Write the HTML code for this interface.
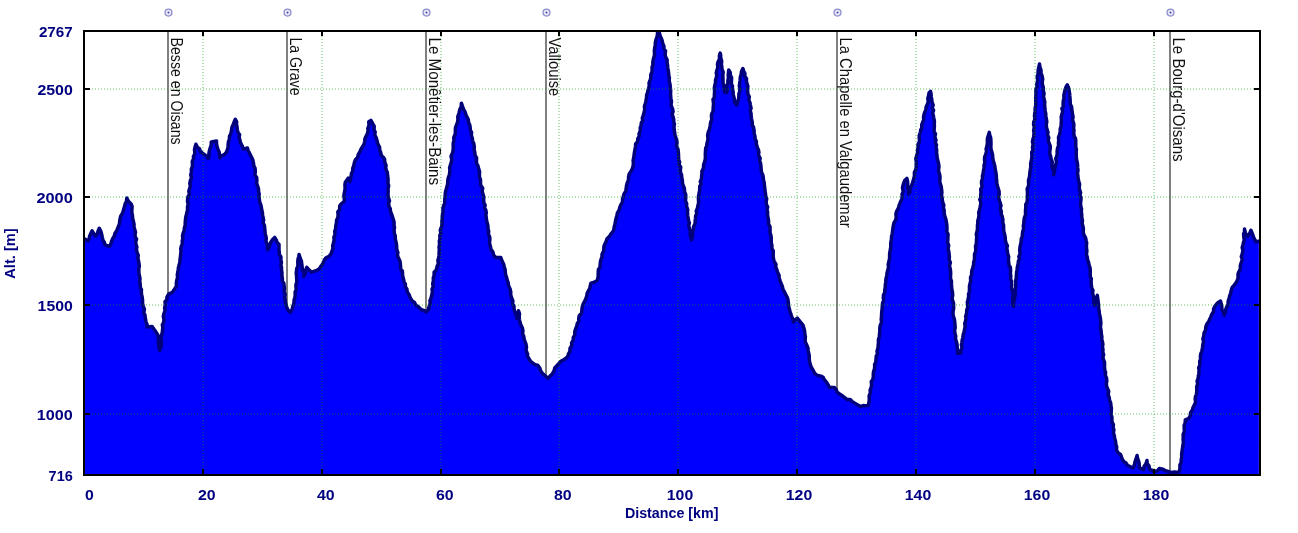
<!DOCTYPE html>
<html><head><meta charset="utf-8"><title>Profile</title>
<style>html,body{margin:0;padding:0;background:#fff}svg{display:block}</style></head>
<body>
<svg width="1298" height="533" viewBox="0 0 1298 533">
<rect width="1298" height="533" fill="#fff"/>
<g shape-rendering="crispEdges" stroke="#808080" stroke-width="2">
<line x1="168" y1="32" x2="168" y2="474"/>
<line x1="287" y1="32" x2="287" y2="474"/>
<line x1="426" y1="32" x2="426" y2="474"/>
<line x1="546" y1="32" x2="546" y2="474"/>
<line x1="837" y1="32" x2="837" y2="474"/>
<line x1="1170" y1="32" x2="1170" y2="474"/>
</g>
<path d="M84 239 L84.9 239 L88.1 240.9 L89.2 238.5 L89.6 236.2 L90.7 233.6 L92.1 230.9 L94.1 234.2 L95.7 236 L97.2 234.3 L98.1 231 L99.3 228.3 L101 231.6 L101.8 234.9 L102.5 238.1 L103.1 240.3 L104.4 242.5 L105 244.9 L109.2 246.4 L110.9 243.9 L111.5 241.5 L112.8 238.5 L114.2 236.3 L115 233.2 L116.7 230.6 L118.2 226.9 L119.5 223.6 L119.6 221.7 L120.1 218.5 L120.8 215.9 L122.7 212.9 L123.5 209.9 L124.4 207.1 L125.1 203.9 L126.4 201.6 L126.8 198.1 L128.4 201.3 L131.3 204.3 L132.1 206.6 L131.9 210 L131.8 212.5 L132.4 214.9 L132.7 218.7 L133.3 220.8 L134.1 224.3 L133.9 226.5 L134.8 229.7 L135.5 232.3 L135 234.3 L135.4 237.5 L136.6 239.1 L135.7 241.8 L136.1 244.7 L136.9 247 L136.4 249.8 L137.2 252.6 L138.3 255.4 L137.9 257.9 L138.3 260 L139 263.4 L139.3 266.1 L138.9 268.2 L138.8 271.3 L139 273.2 L139.5 276 L140 278.5 L139.8 281.4 L140.2 284.3 L140.4 287.8 L141.5 289.4 L141.3 292.4 L141.7 294.8 L142.4 298.3 L142.6 300.9 L142.5 303.2 L143.3 306.3 L144.4 309.1 L143.7 313.1 L144.9 314.8 L145.3 317.9 L146 321.9 L147.1 324.5 L147.1 327.1 L152.1 326.4 L154 329.3 L155.4 331.1 L157.5 334.5 L158.2 337.3 L158.6 339.9 L158.3 342.3 L158.9 344.3 L158.9 347.3 L159.8 350.4 L161 347.4 L161.3 345.2 L161.6 341.5 L160.9 338.4 L161.2 335.5 L162.1 333.6 L162.5 330.2 L162.8 327.8 L162.3 324.8 L163.8 322.1 L163.9 318.9 L163.3 316.5 L163.9 313.7 L165.1 310.3 L164.6 308.3 L165.3 304.4 L165 301.8 L166.9 299.8 L166.9 297.1 L168.7 294.1 L172.3 292.4 L175.1 288.1 L176.5 285.9 L176.3 283.7 L176.6 280.9 L177.6 277.3 L177.3 274.7 L177.7 272.5 L178.2 269.5 L178.4 267.6 L179.3 264.3 L179.9 262.3 L180 259.7 L180.4 256.6 L180.8 253.3 L181 250.9 L180.7 249.2 L181.3 246.1 L182.4 243.6 L182.2 241 L182.8 238.8 L182.5 235.9 L183.2 233 L184.2 230.6 L184.3 228.3 L185.2 225.3 L185.2 222.7 L185.4 220.4 L185.7 217.5 L186.2 215.5 L186.9 212.8 L187.6 209.3 L187.4 207.3 L188.2 203.8 L187.5 201.6 L187.7 198.6 L188.1 196.6 L189.4 194.2 L188.8 191.3 L189.8 187.8 L190.4 186.3 L189.8 183.6 L190.4 180.3 L191.5 178.1 L190.7 174.9 L191.5 172.1 L191.3 169.4 L192.4 166.3 L192.4 164.3 L192.3 161.2 L193.6 158.7 L193.4 156.5 L194.9 153.7 L194.5 149.9 L194.9 147.8 L195.9 144.3 L197.5 147.4 L199.5 148.7 L200.3 151.5 L202.6 153.2 L203.9 154.1 L206.8 156.3 L208.2 158.5 L209.2 156 L208.9 153.4 L209.4 150.7 L210.4 147.3 L211.1 145.5 L211.3 141.9 L216.5 141 L216.5 143.6 L217 146.4 L218 149.4 L219.2 152.2 L219.4 154.9 L219.9 157.9 L221.9 155.5 L224.7 154.3 L226.4 152.2 L227.7 149 L228 146.7 L228.1 144.6 L228.5 141.5 L229.4 139.5 L229.5 136.3 L230.9 133.5 L231.5 130.2 L232 127.1 L233 125.1 L234.3 121.5 L235.3 119.3 L236.7 121.9 L236.4 123.9 L237 126.7 L237.3 129.3 L238 132.6 L239.6 134.6 L239.1 137.7 L239.8 139.4 L240.3 142.1 L242.1 145.7 L243.5 149.2 L247.4 148 L248.1 150.5 L249.1 152.3 L250.4 155 L251.8 157.8 L252.9 160.3 L253.6 163.6 L253.7 165.7 L255.1 168.3 L255.3 171.9 L254.9 175 L256.7 177.6 L256.9 180.5 L256.6 183 L257.6 186.1 L258.5 188.8 L258.6 191.6 L259.2 194 L259 195.7 L259.3 198.8 L259.7 202.2 L260.7 204.5 L261.4 207.5 L261.7 209.7 L262.5 213 L262.5 215.3 L263.1 217.3 L263.6 220.1 L263.1 222.8 L264.4 225.3 L264.8 229 L264.9 230.8 L265.3 233.8 L265.9 236.3 L266.3 238.4 L266 241.5 L267.3 244.3 L267.5 246.7 L267.5 250 L269 247.8 L270 244.6 L270.8 242.2 L272.6 239.4 L274.7 237.4 L276.5 240.4 L276.7 241.9 L279 244.5 L279 246.5 L279 250 L279.3 252.1 L279.5 254.7 L280.9 256.7 L281 259.9 L281.4 262.8 L280.8 265.6 L281.5 267 L281.5 270.3 L282 272.7 L281.9 275.4 L282.4 278.8 L282.3 281.3 L283.8 283.1 L284.2 286.6 L284.5 288.7 L284 291.5 L285.2 294.5 L284.7 296.9 L285.1 299 L285.4 302.7 L286.3 305.4 L286.8 307.1 L287.8 309.8 L290.3 312.3 L292.1 309.4 L292.9 306.3 L293.9 303.4 L294.1 300 L294.7 297.9 L295.2 295.5 L295.1 292 L296.2 289.7 L296 287.1 L295.9 284.9 L296.9 281.5 L296.6 278.9 L296.6 276.3 L296.2 273.3 L296.4 271.6 L296.9 268.1 L297.9 266.3 L297.8 262.4 L297.9 259.6 L298.6 256.8 L299.1 254.5 L300.3 258.4 L301.4 261 L301.8 264.3 L302.2 267.1 L302.3 270 L304.1 272.8 L303.9 276.4 L305.4 272.9 L305.6 269.9 L306.8 267.3 L309.5 270.3 L311.2 272 L312.9 271.6 L316.9 270.3 L319.1 269 L320.5 266.9 L322.8 263.8 L324.3 260.1 L326 257.8 L329 256.4 L331 253.9 L331.9 251.3 L333 248.2 L332.7 245.9 L333.3 243.5 L334.1 240.1 L333.9 237 L335 234.8 L334.7 231.1 L335.6 229 L335.8 225.7 L336.5 222.6 L336.5 220.4 L337.8 217.8 L338.1 214.8 L337.8 211.8 L339.6 209.6 L339.7 206 L341 204.1 L343.9 201.8 L344.4 199.8 L343.9 195.7 L344.2 193.5 L344.8 190.4 L345.1 188.3 L344.9 184.8 L345.3 182.3 L348.2 178.2 L349.8 181.6 L350.3 179.4 L351.2 175.7 L351.4 173.4 L352.6 171.5 L352.8 168.2 L353.6 166.2 L354.5 162.1 L355.4 159.8 L357.6 157.6 L358.2 154.6 L360.1 151.5 L360.6 149.9 L362.8 146.1 L364.1 144.1 L364.6 141.5 L365 138.5 L365.9 136.5 L367.3 133.9 L368.1 130.7 L367.8 128.6 L369 125 L368.7 122 L370.9 120.3 L372.8 123.9 L374.2 126.2 L374.1 130.1 L375.2 131.9 L374.7 134.7 L376.3 138 L377.3 141.8 L377.8 143.9 L379.6 147.4 L379.8 150.4 L380.7 152.3 L381.3 155.4 L383.6 157.6 L384.6 159.2 L384.8 162.3 L386.1 165.5 L385.7 167.1 L386.2 170 L387.3 172.2 L387.6 175.6 L388 178.2 L388.1 180.3 L387.9 183.1 L388.7 185.5 L388 189.3 L388.2 191.2 L388 194.7 L388.6 198.1 L389.5 201 L388.7 202.6 L388.9 206 L390.3 208.7 L390.5 211.5 L391.8 214.6 L392.8 217.7 L393.4 219.7 L394.1 222.3 L394 225.1 L394.5 227.4 L394.1 230.1 L394.3 233.6 L395.2 235.5 L395.3 239 L395.7 240.6 L396.4 243.8 L396.6 245.9 L396.8 249.5 L397.9 252.5 L397.4 254.5 L398.1 257.3 L399.8 260.7 L400.3 263.2 L400.6 266.3 L400.7 269.3 L402.4 270.9 L402.6 274.2 L402.8 276.5 L403.4 278.8 L404.2 282 L405.4 284.2 L405.3 286.7 L406.9 289 L407.2 291.8 L409.4 295.1 L410 297.4 L412.2 301 L414.5 302.4 L415.9 305.3 L418.3 306.8 L420.8 309.3 L423.5 310.4 L426.3 311.9 L428.4 309.7 L429.3 305.8 L430.3 302.8 L429.9 301 L431.1 298 L431.7 295.3 L432.4 291.8 L432 289.3 L433.2 286.9 L432.7 283.7 L433.4 280.7 L433.3 277.6 L434.1 275.7 L434.1 272.3 L436.3 270 L437.2 266 L438.3 264.2 L437.9 260.1 L438.7 257.9 L439 255.4 L439.1 252 L439.3 249.3 L439 247.4 L439.6 244 L439.3 241.2 L440 238.4 L439.8 235.4 L440.9 233.5 L440.3 230.2 L441.6 226.6 L442 223.9 L441.9 221.7 L442.3 218.5 L442.3 216.1 L442.7 213.6 L443.1 210.7 L442.9 208.3 L443.9 205.1 L444.7 203.3 L444.7 199.8 L445.1 197.1 L445.2 195 L445.4 192.1 L446.4 188.8 L447.1 186 L447.6 184.2 L447.8 180.4 L448.2 178.1 L449.3 175 L449.6 173.4 L449.9 170.3 L449.6 167.8 L450.5 164.6 L451.5 161.2 L451.7 159.7 L451 156.2 L452.4 153.3 L453 150.9 L453.2 148.1 L453.2 146.5 L453.2 143 L454 140.4 L453.7 137.6 L454.3 136.1 L455.4 133.4 L455.3 130.4 L455.5 127.4 L456.8 124.2 L457.7 121.6 L457.9 119.2 L457.8 116.5 L459.1 112.7 L459.7 109.8 L461.2 106.6 L461.4 103.2 L462.4 106 L463.7 109.7 L465.2 112.2 L466.2 115.7 L467.4 117.7 L468.4 119.7 L468.4 122.1 L469.8 125.1 L470.3 128.4 L470.3 130 L471.6 132.3 L471.3 135.4 L472.3 138.1 L472.7 141.1 L473.7 143.3 L474.3 146.5 L474.1 149.9 L474.7 151.5 L475 155 L476.6 157.9 L476.5 160.1 L476.5 163.3 L477.9 165.7 L478.6 168.6 L479.6 171.8 L479.4 174.6 L479.5 177.2 L480.5 179.6 L480.5 183.2 L480.9 185.7 L482.7 188 L482.2 191.5 L483.1 194.4 L483.8 196.8 L483.7 199.3 L483.8 202.7 L485.2 205.1 L484.5 207.9 L485.8 210 L486.3 212.6 L485.9 214.8 L486.2 217.4 L486.7 221.1 L487.5 223.9 L487.9 225.8 L488 228.7 L488.7 231.5 L488.4 234.3 L489.7 236.8 L489.9 239.5 L489.5 242.8 L490.5 246.8 L490.8 249.1 L492.8 251.7 L493.6 255.2 L495.8 257.4 L500.8 257.6 L502.2 261.3 L503.8 264.6 L504.3 267.3 L505.1 269.4 L505.3 272.5 L505.8 275.6 L506.5 277.1 L507.4 280.7 L508.2 282.8 L508.5 285.6 L510.2 289.3 L510.8 292.2 L510.7 294.9 L511.7 298 L512.9 300.9 L512.5 303.7 L514 306.3 L513.9 308.6 L514.7 311.3 L516.4 315.4 L516.8 318.2 L517.9 314.2 L518.5 310.7 L519.5 313.6 L519.2 316.9 L519.5 319.8 L520.2 323 L520.9 325.1 L522.4 328.1 L523 331 L522.5 333.4 L523.8 336.4 L524.2 339.4 L525 341.5 L526 344.2 L526.5 347.2 L526 350.1 L527.6 354.1 L527.5 356.3 L529.3 359.2 L530.6 361.3 L532.9 363.1 L535.1 364.6 L537.6 365.1 L539.8 368 L540.7 370.9 L542.6 373.6 L545.7 376.3 L548 378.3 L549.8 376.3 L552.2 374.1 L554.1 370.7 L554.8 368 L557.2 365.3 L558.7 363.8 L560.7 361.3 L563.3 360 L566 358.2 L567.9 356.2 L568.4 354.1 L569.9 351.3 L570 348.2 L571.7 345.7 L571.6 342.8 L573.3 340 L573.3 337.2 L574.8 335.2 L574.8 331.5 L575.6 329 L576.8 326 L577.3 323.3 L578.9 321.3 L578.7 318.5 L579.3 315.5 L581.4 313.6 L581.9 310.5 L582 308.3 L582.7 305.1 L584 302.4 L584.9 300.7 L586.1 298 L586.9 295.5 L587.1 293.3 L588.3 291 L589.9 288.1 L590.2 286.1 L590.9 283.1 L594.3 282.3 L597.2 280.4 L598 277.9 L598.2 275 L598.2 272.6 L598.4 269.6 L599.9 267.4 L600.2 264.1 L600.4 261.8 L601.1 259.1 L602 257.2 L602 254.2 L603.5 251.3 L603.8 249.5 L603.9 246.3 L604.8 244.1 L606.3 241.1 L607 238.8 L609.3 236.6 L610.8 234.1 L612.9 231.5 L613.9 229.4 L614.2 226.7 L615 224.2 L615.3 221.9 L616.2 218 L616.8 215.9 L617.4 213 L619 210.4 L619.9 206.9 L621 204.5 L622.6 201.7 L622.5 199.4 L623.5 195.9 L624 194 L625.8 191.2 L626.2 188.3 L626.4 186.1 L627.2 182.9 L628.4 180.3 L628.6 176.7 L629.2 173.9 L631 171.3 L632.4 168.5 L633.1 166 L633.4 162.9 L633.1 160.7 L633.8 157.2 L634.1 154.6 L634.5 152 L635.1 148.7 L635.5 146.2 L635.6 144 L637.8 141.4 L637.7 139 L639.3 135.7 L639 134 L640.4 130.4 L640.2 127.6 L640.9 125.9 L641.5 122.4 L642.8 120.7 L642.3 118.2 L643.4 115.2 L644 112.6 L644.7 109.6 L644.4 106.5 L645.3 103.5 L645.8 101.3 L646.5 97.8 L646.6 95 L647.6 92.3 L648.1 89.9 L648.7 87.8 L649.3 85.5 L649 83.1 L650.1 80.1 L650.8 78 L650.8 74.8 L652.1 71.7 L652.1 70 L652 67.3 L652.9 65 L652.8 62.3 L653.4 58.9 L654.4 55.4 L654.5 53.5 L654.3 51.1 L654.7 47.7 L655.3 45.2 L655.4 41.9 L656.2 39.1 L657.3 35.7 L657.5 32.9 L659.3 32.8 L660.3 36.3 L661.5 38.7 L662.2 40.9 L662.8 43.6 L664 46.4 L663.9 48.8 L665.6 51 L665.1 53.6 L665.4 56.2 L667.1 59.7 L667.1 62.8 L667.6 65.3 L667.8 68 L668.3 70.7 L668.6 72.8 L668.9 75.8 L669.4 78 L669.2 80.9 L670.1 84.7 L670.2 86.8 L670.7 90.2 L670.6 92.3 L670.6 95.4 L670.9 98.3 L671.5 101.6 L671.1 104 L671.3 105.9 L672.7 109.2 L673.1 111.6 L672.1 114.1 L673.2 117.4 L673.7 119.4 L673.7 121.4 L674.4 124.1 L674 126.4 L674.2 130 L674.7 132.9 L675.1 135.4 L675.5 136.7 L676.6 139.8 L677.1 142.3 L676.5 145.9 L677.8 148.8 L678.2 150.5 L678.5 154.2 L678.6 157.3 L678.7 160.1 L679.6 161.9 L679.1 165 L680.7 166.8 L680.4 170.2 L680.6 173 L681.5 174.4 L681.8 177.7 L682.4 180.3 L682.5 183.4 L683.4 186 L684.4 188.5 L684.6 191.9 L685.7 194.5 L685.8 197 L685.5 200.9 L686.7 203.6 L686.5 206.2 L687.7 209.5 L687.5 211.9 L687.7 215.4 L688 217.9 L688.7 221 L689.4 222.9 L688.7 225.7 L689.7 229 L690.6 232.2 L690 234.9 L691.4 237.8 L691.5 239.9 L692.4 237.8 L692.7 235.3 L692.7 231.4 L693.5 229.7 L693.5 226.9 L695.1 223.5 L695.1 221.4 L695.5 218.2 L695.6 216.2 L696.8 213.2 L696.2 211.1 L697.6 207.7 L697.8 206 L698.6 202.9 L698.5 200.4 L698.4 197.2 L698.7 195.2 L699.3 192.4 L699.7 189.6 L699.7 186.3 L701.2 184.1 L700.3 181.7 L701.6 178.4 L701.6 176.1 L702 172.8 L701.8 171.4 L703.5 167.9 L703.6 164.8 L704.4 162.3 L705.1 160 L705.4 157.5 L705.3 153.8 L705.5 150.9 L705.7 147.9 L706.7 146.3 L706.9 143.7 L707.9 139.7 L707.9 137.4 L707.6 135.4 L708.3 132 L709.4 129.5 L710.2 125.6 L710.7 122.1 L711.8 119.7 L711.4 115.9 L711.8 113.6 L713 111.5 L713.2 107.5 L713.4 105.6 L713.5 103.2 L713 99.2 L714.3 97.5 L714.4 93.8 L714.6 91.5 L714.3 88.4 L714.8 85.4 L715.5 82.8 L715.5 80.1 L716.4 77.2 L716.8 74.8 L716.2 73.2 L716.8 70.5 L717.8 67.5 L717.5 64.3 L717.9 62.2 L719.5 58.9 L719.4 55.7 L720.2 53.1 L720.7 55.3 L720.7 57.8 L721.7 61.1 L721.4 64.4 L721.8 66.6 L722 69.2 L723.2 72.1 L722.8 75.2 L723 78.6 L723 81.6 L723.2 84.3 L724.3 86.2 L724.3 89.2 L724.4 92.1 L726.5 92.6 L727.5 90 L726.5 86.3 L727.9 83.1 L727.9 80.6 L728.4 77.4 L728.2 75.1 L728.7 69.9 L730.3 72.7 L730.4 75.2 L731.6 77.6 L731.5 80.3 L731.4 84 L732.5 86.1 L732.3 89 L733.2 91.9 L733.1 94.1 L734 97.4 L734.6 99.8 L734.4 102 L736.8 105.2 L737.6 102 L738.4 99.7 L738.8 97.6 L738.9 93.8 L739.7 91.5 L740 88.4 L739.3 86.3 L739.8 82.5 L740.1 80.2 L740.3 77.2 L741.2 74.2 L741.5 71.5 L742.9 68.5 L743.6 71 L744.9 73.4 L744.8 76.4 L746.5 78.6 L746.4 81.3 L746.9 83.3 L747.9 86.2 L747.5 89 L747.8 92.4 L747.9 94.1 L749.3 96.9 L748.8 100.1 L750 102.7 L750.4 105 L751.1 108.4 L750.2 110.4 L751.1 113.8 L751.1 116.1 L751.6 119.1 L752.3 122.7 L752.2 125 L753.5 127.2 L754.2 131.1 L754 133.1 L754.9 136 L755.2 139.3 L756.4 141.1 L756.3 143.8 L757.3 147.4 L758.5 150 L758.9 152.3 L758.5 155 L760.2 158.5 L759.6 160.6 L760.6 163.4 L760.9 165.9 L761.2 169.3 L761.4 171.9 L762.9 175.3 L763.3 177.8 L763.6 180.8 L764.2 182.3 L764.4 185.3 L764.8 188.1 L765.1 191.6 L765.5 193.3 L765.7 196.2 L766.7 198.7 L766.1 201.8 L766.4 204.4 L767.7 207.1 L767 209.8 L767.7 212.2 L767.5 214.9 L768.1 218.1 L768.6 220.8 L768.5 223.9 L770 226.8 L770.1 229.7 L770 232.6 L770.8 235.1 L771.3 237.7 L771.2 240.1 L771.4 243.2 L772 245.9 L771.8 248.3 L773.3 250.8 L773.2 253.8 L773.2 257.2 L773.7 259.4 L774.2 261.3 L776 264.4 L775.7 267 L777 270.2 L777.4 272.1 L779.1 275.4 L779.1 277.8 L780.2 281.1 L781.4 284.1 L782.4 286.5 L783 289.5 L784.5 291.9 L785.9 294.9 L787.1 297 L787.9 299.4 L788.4 303.1 L788.6 306.4 L789.3 308.5 L790 311.7 L790.9 313.9 L791.6 316.6 L792.9 319.1 L793.4 322 L795.1 319.8 L797.3 318.2 L799.1 320.3 L800.7 322.5 L803 325.2 L803.7 327.5 L804.6 330.9 L804.9 334.6 L805.4 336.7 L805.1 340.4 L805.3 342 L806.8 345.1 L808 348.1 L808.2 350.5 L808.6 353 L809.3 355.6 L809.2 358.7 L809.6 362 L810.3 364.2 L810.9 366.5 L812.6 369.3 L814.1 372.3 L815.5 374.3 L817.8 375.5 L821.3 376.1 L823.3 377.5 L824.3 379.5 L827 382.8 L827.8 384.3 L829.6 387.4 L834.5 387.6 L836.3 389.7 L837.1 392.2 L839.6 394 L841.5 395.2 L844.4 397.4 L846.8 399.4 L849.9 399.4 L852.3 401.6 L854.8 403.3 L857 404.5 L860.6 406.5 L863.3 405.6 L865.7 405.8 L868.2 405.5 L868.8 403.1 L869.3 399.2 L869.1 395.9 L870.4 392.8 L870.1 390.1 L870.9 388.1 L871.6 385.4 L871.3 381.6 L872.8 379.4 L873.3 376.8 L873.3 374.1 L873.4 372.3 L874.5 368.9 L874.7 366.4 L874.6 364.5 L875.8 362 L876 359 L876.3 355.9 L877.5 353.9 L877 351.2 L878.1 347.6 L878.1 345.8 L878.4 343 L878.4 339.5 L879.4 336.5 L879.4 334.4 L879.8 331.7 L879.8 327.9 L880.3 325.1 L881.5 322.4 L881.2 319.3 L881.5 316.8 L881.6 313.5 L881.8 311.5 L882.2 308.3 L882.3 305.6 L882.7 302.6 L883.7 300.4 L883.3 298.2 L883.5 294.9 L884.9 292 L884.7 290.3 L885.3 287 L885.3 284.7 L885.7 282.2 L885.9 279.4 L886.7 275.6 L887.1 272.6 L887.8 270 L888.5 267.7 L888.2 264.4 L888.9 261.5 L889.5 258.8 L889.6 256.3 L889.6 253.9 L890.1 250.9 L890.7 247.6 L890.8 244.5 L890.8 242.7 L891.4 239.7 L891.5 236.7 L892.2 233.8 L892.6 230.7 L893 227.8 L893.3 225.7 L894.1 222.5 L895.6 220.3 L896.2 217.6 L895.9 214.1 L896.5 211.6 L898.4 208.1 L899.1 205.4 L900.5 201.9 L901.7 199.1 L902.3 196.1 L902 194.3 L903.2 191.4 L902.5 187.8 L903 185.4 L903.7 183.1 L904.7 180.6 L906.9 178.4 L907.6 181.3 L907.7 183.5 L907.6 186.7 L907.8 188.4 L908.8 192.1 L908.5 194 L910 191.9 L909.8 188.9 L910.8 187.1 L912 184.5 L913.2 180.8 L913.7 178.5 L914.4 176.3 L914.4 172.4 L915.6 170.1 L916.2 167.6 L916.2 164.9 L916.3 161.5 L915.8 159 L916.6 155.9 L917.6 152.5 L917.5 149.8 L918.1 147.6 L918 144.3 L919.5 141.5 L919.3 138.2 L919.2 135.5 L920.3 132.6 L920.7 129.9 L921.8 127.9 L921.7 124.6 L922.7 122.3 L923.8 119.4 L923.5 117.5 L924 114.3 L924.8 112.2 L925.9 109.6 L926.1 107 L927.4 104.2 L928.2 101.9 L927.8 98.4 L928.6 95.5 L929 93 L930.5 91.3 L931 93.4 L931.3 96.7 L931.7 99 L932 101.9 L933.2 105.2 L932.2 107.9 L933.6 110.3 L932.6 112.9 L933.3 115.2 L933.7 117.6 L934.4 121.1 L934.3 124.2 L934.4 126.1 L934.2 128.4 L934.1 132 L935.5 133.9 L934.8 137 L936 140.1 L935.3 142.5 L936.5 145.1 L936 146.9 L936.7 149.9 L936.6 152.8 L937 155.8 L937.1 157.4 L937.9 160.9 L938.6 163.7 L939 166.8 L938.7 168.8 L938.6 171.2 L939.5 173.9 L940 176.3 L939.9 180.1 L939.7 181.4 L940.5 184.2 L941.2 186.6 L941.7 190.4 L941.9 192.4 L941.5 195.3 L942.1 197.6 L942.3 200.3 L943.1 203.3 L943.8 205 L943.4 208 L944.2 210.4 L944.1 212.6 L944.7 215.8 L945.7 218.7 L946.3 221.7 L946.7 223.9 L946.9 225.8 L947 229.2 L946.8 231.8 L948.1 234.3 L947.9 236.9 L947.8 240.4 L947.6 242.3 L948.7 245.5 L948.1 248.7 L948.8 251.5 L949.1 254.3 L949.4 257 L949.1 259.4 L950.4 262.6 L949.5 265.8 L949.9 267.4 L950.5 270.4 L950.7 273.5 L950.5 276.3 L950.6 278.9 L951.5 281.1 L951.4 283.8 L951.7 287.6 L952 290.1 L952.5 292 L952.7 295.5 L952 298.4 L952.6 300.2 L953.6 303.4 L953.5 305.5 L953.7 308.1 L953.1 311.2 L953 314.2 L953.5 316.4 L954.4 319.3 L954.8 322.2 L955 324.8 L955.2 327.9 L954.6 330.3 L955 333.4 L955.8 336.3 L955.4 338.6 L956.6 342.3 L957 343.9 L957.2 346.9 L957.5 350.7 L957.5 353.5 L960.9 353 L960.7 350.5 L962 348 L961.4 344.6 L961.8 343.1 L962.2 340.1 L962.8 337.6 L963.3 334.2 L964.1 332.1 L964.4 329.9 L965.2 326.1 L964.7 323.6 L965.3 321.9 L966.1 318 L965.6 316.5 L966.6 313.2 L966.7 310.2 L967.6 307.8 L967.8 305.4 L967.3 302.3 L967.8 300.4 L968.7 296.5 L968.5 294.2 L969.3 291.7 L969.5 288.7 L969.4 286.3 L970.2 282.7 L970.7 281.4 L970.5 277.4 L971.6 275 L971.6 272.6 L972 270.1 L972.7 268 L973.8 264.1 L973.6 262.5 L974.4 259.9 L974.5 257.1 L974.5 254 L975.5 252.2 L975.8 249.2 L975.5 246.5 L976.4 243.1 L976.5 239.8 L976.7 236.9 L976.3 233.8 L977.1 231.3 L977.5 228.2 L977.4 225.5 L977.9 222.7 L977.7 221.2 L978.6 218 L979 215.2 L978.7 212.3 L979.4 210.2 L980 207.7 L980.6 204.8 L980.8 202.5 L979.8 199.4 L980.8 197.9 L980.7 194.9 L981 192.5 L980.7 189.3 L982.1 186.4 L981.5 183.4 L981.6 181.1 L982.6 178.4 L982.4 176 L983 173.9 L983.5 170.3 L984 168.6 L984.1 164.6 L984.8 162.9 L984.5 159.1 L984.7 156.9 L985.8 154.2 L986.5 151 L986.1 149 L987 145.7 L987.4 142.9 L987.3 140.3 L987.5 138 L988.4 135.2 L989.3 132.4 L989.6 134.5 L990.7 137.9 L990.9 140.1 L991 143.6 L990.9 145.7 L990.9 148.7 L991.8 151.8 L992.6 154.9 L992.8 158 L993.4 160.9 L994 163.3 L994.8 166.1 L995.3 169.7 L995.8 172.1 L996.4 175.7 L996.3 177.5 L996.8 181.2 L996.7 182.8 L997.6 186.5 L998.4 188.9 L999.1 191.5 L999.2 194.1 L998.5 197 L999.3 200.3 L1000.1 202.6 L1001 205.6 L1000.2 208.1 L1001.4 211.9 L1001 213.5 L1002.2 216.5 L1002.9 219.6 L1002.7 222.3 L1003.6 225.3 L1003.6 229 L1003.9 231.7 L1004.7 234.5 L1005.3 237.7 L1005.3 240.1 L1006.2 243.3 L1007.4 245.7 L1006.8 248 L1007.4 251.1 L1007.6 253.4 L1008.7 256.8 L1008.4 260.1 L1008.7 262.2 L1009 265.4 L1010.4 267.3 L1010.6 270.9 L1010.4 273.1 L1010.8 276.5 L1010.6 279 L1011.5 281.4 L1011.7 284.8 L1011.5 287.5 L1012 290.1 L1012.9 292.1 L1013.2 296 L1012.6 297.4 L1012.6 301.4 L1012.8 304.1 L1013.5 306.5 L1013.4 303.2 L1014.5 300.5 L1014.2 299.1 L1015 296.5 L1015.6 292.7 L1014.8 291.2 L1015.7 287.5 L1015.7 285.2 L1015.9 282.4 L1015.5 281.1 L1016.2 278.3 L1016.4 275.2 L1016.6 272.4 L1017 270 L1017.3 267.3 L1018.2 263.7 L1018.3 261.5 L1019.5 258.6 L1018.8 256.7 L1020.1 253.6 L1019.7 250.1 L1020 247.2 L1020.4 245.1 L1021 242.4 L1021.3 238.8 L1022.2 236.9 L1022.4 233.9 L1022.8 231.3 L1023.6 228.7 L1023.3 225.6 L1023.7 223.9 L1024 220.5 L1024.4 217.6 L1025.6 214.8 L1025.5 213.5 L1025.5 210.4 L1025.8 207.2 L1025.8 204.3 L1027 202.5 L1027.4 198.7 L1027.3 196.4 L1027.5 194 L1027.4 191.8 L1027.2 188.8 L1028.6 185.7 L1028.6 183.6 L1028.5 180.3 L1029.4 177.3 L1029.7 174.6 L1029.9 172.2 L1030.4 169.1 L1030.8 166.7 L1030.6 164.1 L1031 161.8 L1031.7 158.7 L1031.9 155.6 L1031.7 152.4 L1032.9 150.1 L1032.5 147.3 L1033.1 144 L1032.4 142 L1033 139 L1033.8 136.5 L1034 132.5 L1033.6 130.5 L1034.3 127 L1033.6 124.5 L1033.7 121.9 L1034.9 119.4 L1034.5 116 L1034.6 114.6 L1035.2 111.1 L1035.1 108.8 L1035.7 105.2 L1035.8 102.8 L1035.7 100 L1035.7 97.4 L1036 94.3 L1035.9 92.5 L1035.9 89.3 L1037.1 86.8 L1036.7 84.2 L1037.6 81.4 L1037.6 79.8 L1037.2 76.6 L1038 74.2 L1038.2 70.1 L1038.8 67.2 L1039.5 64 L1039.9 67.3 L1041 69.9 L1041 73.2 L1042.1 75.9 L1042.7 79.3 L1042.2 82.1 L1042.4 84.1 L1043.3 87.4 L1043.3 90.5 L1044.1 93.7 L1043.5 96.3 L1044 99 L1044.8 101.8 L1044.6 105.4 L1044.9 107.7 L1045.2 111 L1045.8 113.8 L1045.7 116 L1046.4 119 L1046.8 122 L1046.3 123.9 L1046.5 127.4 L1046.9 129.1 L1048 132.3 L1047.5 135.2 L1048.8 137.6 L1048.2 140.5 L1049 143 L1050.2 146 L1050.3 147.7 L1049.9 150.8 L1049.8 154.1 L1050.6 155.9 L1051 158.5 L1052.2 161.6 L1052.1 164.2 L1051.9 166.7 L1053.5 170.2 L1053.9 172.1 L1053.6 174.9 L1054.3 172.3 L1054.6 169.7 L1055.2 166.8 L1055.9 163.9 L1056.5 161.6 L1055.7 158.6 L1056.8 156 L1057.2 153.2 L1057.1 151.2 L1057.5 148.4 L1058.6 145.5 L1058.4 143.3 L1058.7 140.6 L1058.5 137.3 L1059.7 134 L1060.1 131.7 L1060.3 128.6 L1061.1 126.2 L1061.2 123.1 L1061.4 120.4 L1061.2 116.8 L1062 114.1 L1062.7 111.2 L1061.9 108.4 L1063.2 106.9 L1063.1 103.8 L1063.2 101.5 L1064 98 L1063.8 95.7 L1064.3 93.1 L1065.1 89.5 L1066 87 L1067.3 84.9 L1068.5 87.6 L1069.1 90.2 L1069.7 94.1 L1069.8 95.9 L1070.1 99.1 L1070.2 101.6 L1070.3 104.2 L1071.6 106.8 L1071.8 109 L1072.1 111.9 L1072.8 115.5 L1073.1 117.4 L1072.5 119.7 L1073.4 122.5 L1073.9 124.6 L1073.6 128.2 L1074 130.3 L1073.7 132.6 L1074.2 136.4 L1075.4 138.3 L1075.8 140.8 L1075.7 144.9 L1075.8 147.3 L1076.4 149.3 L1076.2 152.7 L1076.3 156 L1076.5 159 L1076.9 160.9 L1077.5 163.8 L1077.7 167.7 L1078 170.2 L1077.5 173.1 L1077.9 176.1 L1078.2 178.9 L1078.8 181.5 L1079.6 184 L1079.2 188 L1079.8 190.4 L1080.6 192.9 L1079.9 195 L1081.1 197.7 L1080.8 201 L1080.5 203.5 L1080.8 206.3 L1081.5 208.8 L1081.3 211.5 L1081.7 214 L1081.8 217.7 L1082.5 220.6 L1082.1 223.5 L1083 226.2 L1083.4 228.9 L1083.2 231.9 L1083.7 234.2 L1085.6 237.9 L1086.1 240.4 L1086.7 242.9 L1086.4 245.8 L1086.6 249.3 L1086.9 251 L1086.4 254.5 L1087.2 256.8 L1087.7 260.2 L1088.6 262.5 L1089.2 265.5 L1090 267.7 L1090.3 271.1 L1090.2 273.3 L1090.3 276.9 L1091.3 278.7 L1091.1 281.4 L1091.2 284.2 L1091.8 287.9 L1093 290.4 L1092.6 292.6 L1093.2 295.6 L1093.9 298.8 L1093.6 302.1 L1094.8 305.5 L1094.8 302.3 L1096 298.2 L1097.3 295.4 L1097.6 297.4 L1098 301.1 L1098.4 303.4 L1098.6 306.1 L1098.6 308.1 L1099.2 311.2 L1099.3 313.3 L1100.1 316.6 L1100.5 319.1 L1100.9 323.2 L1100.5 326.1 L1100.6 328.1 L1101.1 330.7 L1101.4 334.3 L1101.9 336.6 L1101.7 339.3 L1102.5 341.8 L1102.9 344.6 L1102.4 346.1 L1103 349.8 L1102.8 352 L1103.7 354.9 L1102.8 357.1 L1103.4 359.4 L1104.5 362.2 L1104.6 364.9 L1104.5 367.2 L1104.9 370.7 L1105.6 372.5 L1105.3 375.1 L1106.5 377.9 L1106.8 381.1 L1106.4 383.5 L1106.6 386.3 L1107.4 388.3 L1108.7 391.2 L1108.2 394.8 L1109.3 397.8 L1109.5 400.1 L1110.7 403 L1110.9 405.7 L1111.4 408.1 L1111.3 410.5 L1111.1 414.5 L1111.9 417 L1111.9 419 L1112 421.9 L1113.4 424.5 L1113.1 427.7 L1113.9 429.9 L1113.4 432.8 L1114.4 436.1 L1114.7 438.6 L1115.5 441 L1115.8 444.3 L1116.7 446.9 L1116.5 450 L1118 452.7 L1120.7 454.7 L1122 458.5 L1123.9 461.8 L1125.9 462.9 L1127.4 465.3 L1131.1 467.1 L1133.3 467.7 L1134.5 464 L1135 461.9 L1136.2 458.3 L1137.1 455.5 L1137.6 458.5 L1138.9 461.8 L1139.3 464.8 L1139.4 467.9 L1143.5 469.7 L1144.2 466.1 L1145.8 464.1 L1147 460.5 L1147.2 463.6 L1149.1 466.1 L1149.6 469.4 L1151.6 470 L1154.3 471.5 L1157.6 470.7 L1159.2 468.5 L1163 469.2 L1165.2 470.6 L1167.8 471.3 L1171.2 472.5 L1174.6 471.9 L1176.2 472.5 L1179.2 471.8 L1179.9 469 L1179.9 465.1 L1181.1 462.6 L1181.2 459.7 L1181.8 456.4 L1181.6 454.5 L1182.1 450.8 L1182.5 447.9 L1183 444.7 L1183.4 442.6 L1183.1 440 L1183.2 436.5 L1183.2 434.1 L1184.4 431.4 L1184.2 428.8 L1184.1 425.2 L1185.1 423.3 L1185.3 419.9 L1188.4 418.7 L1190.1 416.2 L1190.6 412.7 L1192.4 409.8 L1192.9 407.8 L1194.4 404.7 L1195.6 402.3 L1195.2 399.1 L1195.4 396.6 L1196.3 394.6 L1196.8 391.5 L1196.7 388.9 L1196.7 386.6 L1197.7 384 L1197.1 381.1 L1198.2 378.2 L1198.4 375.9 L1198.8 373.3 L1199.1 370.7 L1198.7 367.7 L1199.9 364.8 L1199.7 361.3 L1200.5 359.6 L1200.4 356 L1200.9 353.4 L1201.8 351.4 L1202.5 347.5 L1202.9 344.2 L1203.6 341.5 L1202.9 339 L1203.8 335.6 L1204.1 332.8 L1205.5 330.3 L1205.8 327.1 L1206.8 324 L1208.7 321.7 L1209.5 319.6 L1210.7 317.2 L1211.6 314.7 L1213.6 311.5 L1213.6 309 L1215.1 305.8 L1217.8 302.7 L1220.5 301 L1221.2 303.6 L1221.8 306.8 L1222.1 310.1 L1223.8 312.9 L1224.1 315.3 L1225.5 311.9 L1225.8 309.1 L1226.7 307 L1227.9 303.8 L1228.3 300.7 L1229.2 298.2 L1229.6 296.1 L1230.8 293 L1231.1 290.8 L1232.1 287.6 L1233.8 285.6 L1235.8 283.1 L1237.1 280.8 L1238.1 277.9 L1238 274.3 L1238.6 272.3 L1240.3 269.1 L1240.3 265.7 L1241.1 263.1 L1242.3 259.7 L1241.3 256.5 L1242 254.6 L1242.9 250.9 L1242.2 247.4 L1242.9 245.2 L1243.3 243.1 L1244.2 240.2 L1243.9 237.6 L1243.6 234 L1244.5 231.9 L1244.5 229.1 L1245.5 233.2 L1247.7 236.3 L1249.8 233.1 L1250.9 230.3 L1252.6 234.2 L1253.4 236.8 L1255.7 241.7 L1258.9 241.3 L1258.9 475 L84 475 Z" fill="#0000ff"/>
<clipPath id="pc"><rect x="85" y="32" width="1174" height="442"/></clipPath>
<path d="M84 239 L84.9 239 L88.1 240.9 L89.2 238.5 L89.6 236.2 L90.7 233.6 L92.1 230.9 L94.1 234.2 L95.7 236 L97.2 234.3 L98.1 231 L99.3 228.3 L101 231.6 L101.8 234.9 L102.5 238.1 L103.1 240.3 L104.4 242.5 L105 244.9 L109.2 246.4 L110.9 243.9 L111.5 241.5 L112.8 238.5 L114.2 236.3 L115 233.2 L116.7 230.6 L118.2 226.9 L119.5 223.6 L119.6 221.7 L120.1 218.5 L120.8 215.9 L122.7 212.9 L123.5 209.9 L124.4 207.1 L125.1 203.9 L126.4 201.6 L126.8 198.1 L128.4 201.3 L131.3 204.3 L132.1 206.6 L131.9 210 L131.8 212.5 L132.4 214.9 L132.7 218.7 L133.3 220.8 L134.1 224.3 L133.9 226.5 L134.8 229.7 L135.5 232.3 L135 234.3 L135.4 237.5 L136.6 239.1 L135.7 241.8 L136.1 244.7 L136.9 247 L136.4 249.8 L137.2 252.6 L138.3 255.4 L137.9 257.9 L138.3 260 L139 263.4 L139.3 266.1 L138.9 268.2 L138.8 271.3 L139 273.2 L139.5 276 L140 278.5 L139.8 281.4 L140.2 284.3 L140.4 287.8 L141.5 289.4 L141.3 292.4 L141.7 294.8 L142.4 298.3 L142.6 300.9 L142.5 303.2 L143.3 306.3 L144.4 309.1 L143.7 313.1 L144.9 314.8 L145.3 317.9 L146 321.9 L147.1 324.5 L147.1 327.1 L152.1 326.4 L154 329.3 L155.4 331.1 L157.5 334.5 L158.2 337.3 L158.6 339.9 L158.3 342.3 L158.9 344.3 L158.9 347.3 L159.8 350.4 L161 347.4 L161.3 345.2 L161.6 341.5 L160.9 338.4 L161.2 335.5 L162.1 333.6 L162.5 330.2 L162.8 327.8 L162.3 324.8 L163.8 322.1 L163.9 318.9 L163.3 316.5 L163.9 313.7 L165.1 310.3 L164.6 308.3 L165.3 304.4 L165 301.8 L166.9 299.8 L166.9 297.1 L168.7 294.1 L172.3 292.4 L175.1 288.1 L176.5 285.9 L176.3 283.7 L176.6 280.9 L177.6 277.3 L177.3 274.7 L177.7 272.5 L178.2 269.5 L178.4 267.6 L179.3 264.3 L179.9 262.3 L180 259.7 L180.4 256.6 L180.8 253.3 L181 250.9 L180.7 249.2 L181.3 246.1 L182.4 243.6 L182.2 241 L182.8 238.8 L182.5 235.9 L183.2 233 L184.2 230.6 L184.3 228.3 L185.2 225.3 L185.2 222.7 L185.4 220.4 L185.7 217.5 L186.2 215.5 L186.9 212.8 L187.6 209.3 L187.4 207.3 L188.2 203.8 L187.5 201.6 L187.7 198.6 L188.1 196.6 L189.4 194.2 L188.8 191.3 L189.8 187.8 L190.4 186.3 L189.8 183.6 L190.4 180.3 L191.5 178.1 L190.7 174.9 L191.5 172.1 L191.3 169.4 L192.4 166.3 L192.4 164.3 L192.3 161.2 L193.6 158.7 L193.4 156.5 L194.9 153.7 L194.5 149.9 L194.9 147.8 L195.9 144.3 L197.5 147.4 L199.5 148.7 L200.3 151.5 L202.6 153.2 L203.9 154.1 L206.8 156.3 L208.2 158.5 L209.2 156 L208.9 153.4 L209.4 150.7 L210.4 147.3 L211.1 145.5 L211.3 141.9 L216.5 141 L216.5 143.6 L217 146.4 L218 149.4 L219.2 152.2 L219.4 154.9 L219.9 157.9 L221.9 155.5 L224.7 154.3 L226.4 152.2 L227.7 149 L228 146.7 L228.1 144.6 L228.5 141.5 L229.4 139.5 L229.5 136.3 L230.9 133.5 L231.5 130.2 L232 127.1 L233 125.1 L234.3 121.5 L235.3 119.3 L236.7 121.9 L236.4 123.9 L237 126.7 L237.3 129.3 L238 132.6 L239.6 134.6 L239.1 137.7 L239.8 139.4 L240.3 142.1 L242.1 145.7 L243.5 149.2 L247.4 148 L248.1 150.5 L249.1 152.3 L250.4 155 L251.8 157.8 L252.9 160.3 L253.6 163.6 L253.7 165.7 L255.1 168.3 L255.3 171.9 L254.9 175 L256.7 177.6 L256.9 180.5 L256.6 183 L257.6 186.1 L258.5 188.8 L258.6 191.6 L259.2 194 L259 195.7 L259.3 198.8 L259.7 202.2 L260.7 204.5 L261.4 207.5 L261.7 209.7 L262.5 213 L262.5 215.3 L263.1 217.3 L263.6 220.1 L263.1 222.8 L264.4 225.3 L264.8 229 L264.9 230.8 L265.3 233.8 L265.9 236.3 L266.3 238.4 L266 241.5 L267.3 244.3 L267.5 246.7 L267.5 250 L269 247.8 L270 244.6 L270.8 242.2 L272.6 239.4 L274.7 237.4 L276.5 240.4 L276.7 241.9 L279 244.5 L279 246.5 L279 250 L279.3 252.1 L279.5 254.7 L280.9 256.7 L281 259.9 L281.4 262.8 L280.8 265.6 L281.5 267 L281.5 270.3 L282 272.7 L281.9 275.4 L282.4 278.8 L282.3 281.3 L283.8 283.1 L284.2 286.6 L284.5 288.7 L284 291.5 L285.2 294.5 L284.7 296.9 L285.1 299 L285.4 302.7 L286.3 305.4 L286.8 307.1 L287.8 309.8 L290.3 312.3 L292.1 309.4 L292.9 306.3 L293.9 303.4 L294.1 300 L294.7 297.9 L295.2 295.5 L295.1 292 L296.2 289.7 L296 287.1 L295.9 284.9 L296.9 281.5 L296.6 278.9 L296.6 276.3 L296.2 273.3 L296.4 271.6 L296.9 268.1 L297.9 266.3 L297.8 262.4 L297.9 259.6 L298.6 256.8 L299.1 254.5 L300.3 258.4 L301.4 261 L301.8 264.3 L302.2 267.1 L302.3 270 L304.1 272.8 L303.9 276.4 L305.4 272.9 L305.6 269.9 L306.8 267.3 L309.5 270.3 L311.2 272 L312.9 271.6 L316.9 270.3 L319.1 269 L320.5 266.9 L322.8 263.8 L324.3 260.1 L326 257.8 L329 256.4 L331 253.9 L331.9 251.3 L333 248.2 L332.7 245.9 L333.3 243.5 L334.1 240.1 L333.9 237 L335 234.8 L334.7 231.1 L335.6 229 L335.8 225.7 L336.5 222.6 L336.5 220.4 L337.8 217.8 L338.1 214.8 L337.8 211.8 L339.6 209.6 L339.7 206 L341 204.1 L343.9 201.8 L344.4 199.8 L343.9 195.7 L344.2 193.5 L344.8 190.4 L345.1 188.3 L344.9 184.8 L345.3 182.3 L348.2 178.2 L349.8 181.6 L350.3 179.4 L351.2 175.7 L351.4 173.4 L352.6 171.5 L352.8 168.2 L353.6 166.2 L354.5 162.1 L355.4 159.8 L357.6 157.6 L358.2 154.6 L360.1 151.5 L360.6 149.9 L362.8 146.1 L364.1 144.1 L364.6 141.5 L365 138.5 L365.9 136.5 L367.3 133.9 L368.1 130.7 L367.8 128.6 L369 125 L368.7 122 L370.9 120.3 L372.8 123.9 L374.2 126.2 L374.1 130.1 L375.2 131.9 L374.7 134.7 L376.3 138 L377.3 141.8 L377.8 143.9 L379.6 147.4 L379.8 150.4 L380.7 152.3 L381.3 155.4 L383.6 157.6 L384.6 159.2 L384.8 162.3 L386.1 165.5 L385.7 167.1 L386.2 170 L387.3 172.2 L387.6 175.6 L388 178.2 L388.1 180.3 L387.9 183.1 L388.7 185.5 L388 189.3 L388.2 191.2 L388 194.7 L388.6 198.1 L389.5 201 L388.7 202.6 L388.9 206 L390.3 208.7 L390.5 211.5 L391.8 214.6 L392.8 217.7 L393.4 219.7 L394.1 222.3 L394 225.1 L394.5 227.4 L394.1 230.1 L394.3 233.6 L395.2 235.5 L395.3 239 L395.7 240.6 L396.4 243.8 L396.6 245.9 L396.8 249.5 L397.9 252.5 L397.4 254.5 L398.1 257.3 L399.8 260.7 L400.3 263.2 L400.6 266.3 L400.7 269.3 L402.4 270.9 L402.6 274.2 L402.8 276.5 L403.4 278.8 L404.2 282 L405.4 284.2 L405.3 286.7 L406.9 289 L407.2 291.8 L409.4 295.1 L410 297.4 L412.2 301 L414.5 302.4 L415.9 305.3 L418.3 306.8 L420.8 309.3 L423.5 310.4 L426.3 311.9 L428.4 309.7 L429.3 305.8 L430.3 302.8 L429.9 301 L431.1 298 L431.7 295.3 L432.4 291.8 L432 289.3 L433.2 286.9 L432.7 283.7 L433.4 280.7 L433.3 277.6 L434.1 275.7 L434.1 272.3 L436.3 270 L437.2 266 L438.3 264.2 L437.9 260.1 L438.7 257.9 L439 255.4 L439.1 252 L439.3 249.3 L439 247.4 L439.6 244 L439.3 241.2 L440 238.4 L439.8 235.4 L440.9 233.5 L440.3 230.2 L441.6 226.6 L442 223.9 L441.9 221.7 L442.3 218.5 L442.3 216.1 L442.7 213.6 L443.1 210.7 L442.9 208.3 L443.9 205.1 L444.7 203.3 L444.7 199.8 L445.1 197.1 L445.2 195 L445.4 192.1 L446.4 188.8 L447.1 186 L447.6 184.2 L447.8 180.4 L448.2 178.1 L449.3 175 L449.6 173.4 L449.9 170.3 L449.6 167.8 L450.5 164.6 L451.5 161.2 L451.7 159.7 L451 156.2 L452.4 153.3 L453 150.9 L453.2 148.1 L453.2 146.5 L453.2 143 L454 140.4 L453.7 137.6 L454.3 136.1 L455.4 133.4 L455.3 130.4 L455.5 127.4 L456.8 124.2 L457.7 121.6 L457.9 119.2 L457.8 116.5 L459.1 112.7 L459.7 109.8 L461.2 106.6 L461.4 103.2 L462.4 106 L463.7 109.7 L465.2 112.2 L466.2 115.7 L467.4 117.7 L468.4 119.7 L468.4 122.1 L469.8 125.1 L470.3 128.4 L470.3 130 L471.6 132.3 L471.3 135.4 L472.3 138.1 L472.7 141.1 L473.7 143.3 L474.3 146.5 L474.1 149.9 L474.7 151.5 L475 155 L476.6 157.9 L476.5 160.1 L476.5 163.3 L477.9 165.7 L478.6 168.6 L479.6 171.8 L479.4 174.6 L479.5 177.2 L480.5 179.6 L480.5 183.2 L480.9 185.7 L482.7 188 L482.2 191.5 L483.1 194.4 L483.8 196.8 L483.7 199.3 L483.8 202.7 L485.2 205.1 L484.5 207.9 L485.8 210 L486.3 212.6 L485.9 214.8 L486.2 217.4 L486.7 221.1 L487.5 223.9 L487.9 225.8 L488 228.7 L488.7 231.5 L488.4 234.3 L489.7 236.8 L489.9 239.5 L489.5 242.8 L490.5 246.8 L490.8 249.1 L492.8 251.7 L493.6 255.2 L495.8 257.4 L500.8 257.6 L502.2 261.3 L503.8 264.6 L504.3 267.3 L505.1 269.4 L505.3 272.5 L505.8 275.6 L506.5 277.1 L507.4 280.7 L508.2 282.8 L508.5 285.6 L510.2 289.3 L510.8 292.2 L510.7 294.9 L511.7 298 L512.9 300.9 L512.5 303.7 L514 306.3 L513.9 308.6 L514.7 311.3 L516.4 315.4 L516.8 318.2 L517.9 314.2 L518.5 310.7 L519.5 313.6 L519.2 316.9 L519.5 319.8 L520.2 323 L520.9 325.1 L522.4 328.1 L523 331 L522.5 333.4 L523.8 336.4 L524.2 339.4 L525 341.5 L526 344.2 L526.5 347.2 L526 350.1 L527.6 354.1 L527.5 356.3 L529.3 359.2 L530.6 361.3 L532.9 363.1 L535.1 364.6 L537.6 365.1 L539.8 368 L540.7 370.9 L542.6 373.6 L545.7 376.3 L548 378.3 L549.8 376.3 L552.2 374.1 L554.1 370.7 L554.8 368 L557.2 365.3 L558.7 363.8 L560.7 361.3 L563.3 360 L566 358.2 L567.9 356.2 L568.4 354.1 L569.9 351.3 L570 348.2 L571.7 345.7 L571.6 342.8 L573.3 340 L573.3 337.2 L574.8 335.2 L574.8 331.5 L575.6 329 L576.8 326 L577.3 323.3 L578.9 321.3 L578.7 318.5 L579.3 315.5 L581.4 313.6 L581.9 310.5 L582 308.3 L582.7 305.1 L584 302.4 L584.9 300.7 L586.1 298 L586.9 295.5 L587.1 293.3 L588.3 291 L589.9 288.1 L590.2 286.1 L590.9 283.1 L594.3 282.3 L597.2 280.4 L598 277.9 L598.2 275 L598.2 272.6 L598.4 269.6 L599.9 267.4 L600.2 264.1 L600.4 261.8 L601.1 259.1 L602 257.2 L602 254.2 L603.5 251.3 L603.8 249.5 L603.9 246.3 L604.8 244.1 L606.3 241.1 L607 238.8 L609.3 236.6 L610.8 234.1 L612.9 231.5 L613.9 229.4 L614.2 226.7 L615 224.2 L615.3 221.9 L616.2 218 L616.8 215.9 L617.4 213 L619 210.4 L619.9 206.9 L621 204.5 L622.6 201.7 L622.5 199.4 L623.5 195.9 L624 194 L625.8 191.2 L626.2 188.3 L626.4 186.1 L627.2 182.9 L628.4 180.3 L628.6 176.7 L629.2 173.9 L631 171.3 L632.4 168.5 L633.1 166 L633.4 162.9 L633.1 160.7 L633.8 157.2 L634.1 154.6 L634.5 152 L635.1 148.7 L635.5 146.2 L635.6 144 L637.8 141.4 L637.7 139 L639.3 135.7 L639 134 L640.4 130.4 L640.2 127.6 L640.9 125.9 L641.5 122.4 L642.8 120.7 L642.3 118.2 L643.4 115.2 L644 112.6 L644.7 109.6 L644.4 106.5 L645.3 103.5 L645.8 101.3 L646.5 97.8 L646.6 95 L647.6 92.3 L648.1 89.9 L648.7 87.8 L649.3 85.5 L649 83.1 L650.1 80.1 L650.8 78 L650.8 74.8 L652.1 71.7 L652.1 70 L652 67.3 L652.9 65 L652.8 62.3 L653.4 58.9 L654.4 55.4 L654.5 53.5 L654.3 51.1 L654.7 47.7 L655.3 45.2 L655.4 41.9 L656.2 39.1 L657.3 35.7 L657.5 32.9 L659.3 32.8 L660.3 36.3 L661.5 38.7 L662.2 40.9 L662.8 43.6 L664 46.4 L663.9 48.8 L665.6 51 L665.1 53.6 L665.4 56.2 L667.1 59.7 L667.1 62.8 L667.6 65.3 L667.8 68 L668.3 70.7 L668.6 72.8 L668.9 75.8 L669.4 78 L669.2 80.9 L670.1 84.7 L670.2 86.8 L670.7 90.2 L670.6 92.3 L670.6 95.4 L670.9 98.3 L671.5 101.6 L671.1 104 L671.3 105.9 L672.7 109.2 L673.1 111.6 L672.1 114.1 L673.2 117.4 L673.7 119.4 L673.7 121.4 L674.4 124.1 L674 126.4 L674.2 130 L674.7 132.9 L675.1 135.4 L675.5 136.7 L676.6 139.8 L677.1 142.3 L676.5 145.9 L677.8 148.8 L678.2 150.5 L678.5 154.2 L678.6 157.3 L678.7 160.1 L679.6 161.9 L679.1 165 L680.7 166.8 L680.4 170.2 L680.6 173 L681.5 174.4 L681.8 177.7 L682.4 180.3 L682.5 183.4 L683.4 186 L684.4 188.5 L684.6 191.9 L685.7 194.5 L685.8 197 L685.5 200.9 L686.7 203.6 L686.5 206.2 L687.7 209.5 L687.5 211.9 L687.7 215.4 L688 217.9 L688.7 221 L689.4 222.9 L688.7 225.7 L689.7 229 L690.6 232.2 L690 234.9 L691.4 237.8 L691.5 239.9 L692.4 237.8 L692.7 235.3 L692.7 231.4 L693.5 229.7 L693.5 226.9 L695.1 223.5 L695.1 221.4 L695.5 218.2 L695.6 216.2 L696.8 213.2 L696.2 211.1 L697.6 207.7 L697.8 206 L698.6 202.9 L698.5 200.4 L698.4 197.2 L698.7 195.2 L699.3 192.4 L699.7 189.6 L699.7 186.3 L701.2 184.1 L700.3 181.7 L701.6 178.4 L701.6 176.1 L702 172.8 L701.8 171.4 L703.5 167.9 L703.6 164.8 L704.4 162.3 L705.1 160 L705.4 157.5 L705.3 153.8 L705.5 150.9 L705.7 147.9 L706.7 146.3 L706.9 143.7 L707.9 139.7 L707.9 137.4 L707.6 135.4 L708.3 132 L709.4 129.5 L710.2 125.6 L710.7 122.1 L711.8 119.7 L711.4 115.9 L711.8 113.6 L713 111.5 L713.2 107.5 L713.4 105.6 L713.5 103.2 L713 99.2 L714.3 97.5 L714.4 93.8 L714.6 91.5 L714.3 88.4 L714.8 85.4 L715.5 82.8 L715.5 80.1 L716.4 77.2 L716.8 74.8 L716.2 73.2 L716.8 70.5 L717.8 67.5 L717.5 64.3 L717.9 62.2 L719.5 58.9 L719.4 55.7 L720.2 53.1 L720.7 55.3 L720.7 57.8 L721.7 61.1 L721.4 64.4 L721.8 66.6 L722 69.2 L723.2 72.1 L722.8 75.2 L723 78.6 L723 81.6 L723.2 84.3 L724.3 86.2 L724.3 89.2 L724.4 92.1 L726.5 92.6 L727.5 90 L726.5 86.3 L727.9 83.1 L727.9 80.6 L728.4 77.4 L728.2 75.1 L728.7 69.9 L730.3 72.7 L730.4 75.2 L731.6 77.6 L731.5 80.3 L731.4 84 L732.5 86.1 L732.3 89 L733.2 91.9 L733.1 94.1 L734 97.4 L734.6 99.8 L734.4 102 L736.8 105.2 L737.6 102 L738.4 99.7 L738.8 97.6 L738.9 93.8 L739.7 91.5 L740 88.4 L739.3 86.3 L739.8 82.5 L740.1 80.2 L740.3 77.2 L741.2 74.2 L741.5 71.5 L742.9 68.5 L743.6 71 L744.9 73.4 L744.8 76.4 L746.5 78.6 L746.4 81.3 L746.9 83.3 L747.9 86.2 L747.5 89 L747.8 92.4 L747.9 94.1 L749.3 96.9 L748.8 100.1 L750 102.7 L750.4 105 L751.1 108.4 L750.2 110.4 L751.1 113.8 L751.1 116.1 L751.6 119.1 L752.3 122.7 L752.2 125 L753.5 127.2 L754.2 131.1 L754 133.1 L754.9 136 L755.2 139.3 L756.4 141.1 L756.3 143.8 L757.3 147.4 L758.5 150 L758.9 152.3 L758.5 155 L760.2 158.5 L759.6 160.6 L760.6 163.4 L760.9 165.9 L761.2 169.3 L761.4 171.9 L762.9 175.3 L763.3 177.8 L763.6 180.8 L764.2 182.3 L764.4 185.3 L764.8 188.1 L765.1 191.6 L765.5 193.3 L765.7 196.2 L766.7 198.7 L766.1 201.8 L766.4 204.4 L767.7 207.1 L767 209.8 L767.7 212.2 L767.5 214.9 L768.1 218.1 L768.6 220.8 L768.5 223.9 L770 226.8 L770.1 229.7 L770 232.6 L770.8 235.1 L771.3 237.7 L771.2 240.1 L771.4 243.2 L772 245.9 L771.8 248.3 L773.3 250.8 L773.2 253.8 L773.2 257.2 L773.7 259.4 L774.2 261.3 L776 264.4 L775.7 267 L777 270.2 L777.4 272.1 L779.1 275.4 L779.1 277.8 L780.2 281.1 L781.4 284.1 L782.4 286.5 L783 289.5 L784.5 291.9 L785.9 294.9 L787.1 297 L787.9 299.4 L788.4 303.1 L788.6 306.4 L789.3 308.5 L790 311.7 L790.9 313.9 L791.6 316.6 L792.9 319.1 L793.4 322 L795.1 319.8 L797.3 318.2 L799.1 320.3 L800.7 322.5 L803 325.2 L803.7 327.5 L804.6 330.9 L804.9 334.6 L805.4 336.7 L805.1 340.4 L805.3 342 L806.8 345.1 L808 348.1 L808.2 350.5 L808.6 353 L809.3 355.6 L809.2 358.7 L809.6 362 L810.3 364.2 L810.9 366.5 L812.6 369.3 L814.1 372.3 L815.5 374.3 L817.8 375.5 L821.3 376.1 L823.3 377.5 L824.3 379.5 L827 382.8 L827.8 384.3 L829.6 387.4 L834.5 387.6 L836.3 389.7 L837.1 392.2 L839.6 394 L841.5 395.2 L844.4 397.4 L846.8 399.4 L849.9 399.4 L852.3 401.6 L854.8 403.3 L857 404.5 L860.6 406.5 L863.3 405.6 L865.7 405.8 L868.2 405.5 L868.8 403.1 L869.3 399.2 L869.1 395.9 L870.4 392.8 L870.1 390.1 L870.9 388.1 L871.6 385.4 L871.3 381.6 L872.8 379.4 L873.3 376.8 L873.3 374.1 L873.4 372.3 L874.5 368.9 L874.7 366.4 L874.6 364.5 L875.8 362 L876 359 L876.3 355.9 L877.5 353.9 L877 351.2 L878.1 347.6 L878.1 345.8 L878.4 343 L878.4 339.5 L879.4 336.5 L879.4 334.4 L879.8 331.7 L879.8 327.9 L880.3 325.1 L881.5 322.4 L881.2 319.3 L881.5 316.8 L881.6 313.5 L881.8 311.5 L882.2 308.3 L882.3 305.6 L882.7 302.6 L883.7 300.4 L883.3 298.2 L883.5 294.9 L884.9 292 L884.7 290.3 L885.3 287 L885.3 284.7 L885.7 282.2 L885.9 279.4 L886.7 275.6 L887.1 272.6 L887.8 270 L888.5 267.7 L888.2 264.4 L888.9 261.5 L889.5 258.8 L889.6 256.3 L889.6 253.9 L890.1 250.9 L890.7 247.6 L890.8 244.5 L890.8 242.7 L891.4 239.7 L891.5 236.7 L892.2 233.8 L892.6 230.7 L893 227.8 L893.3 225.7 L894.1 222.5 L895.6 220.3 L896.2 217.6 L895.9 214.1 L896.5 211.6 L898.4 208.1 L899.1 205.4 L900.5 201.9 L901.7 199.1 L902.3 196.1 L902 194.3 L903.2 191.4 L902.5 187.8 L903 185.4 L903.7 183.1 L904.7 180.6 L906.9 178.4 L907.6 181.3 L907.7 183.5 L907.6 186.7 L907.8 188.4 L908.8 192.1 L908.5 194 L910 191.9 L909.8 188.9 L910.8 187.1 L912 184.5 L913.2 180.8 L913.7 178.5 L914.4 176.3 L914.4 172.4 L915.6 170.1 L916.2 167.6 L916.2 164.9 L916.3 161.5 L915.8 159 L916.6 155.9 L917.6 152.5 L917.5 149.8 L918.1 147.6 L918 144.3 L919.5 141.5 L919.3 138.2 L919.2 135.5 L920.3 132.6 L920.7 129.9 L921.8 127.9 L921.7 124.6 L922.7 122.3 L923.8 119.4 L923.5 117.5 L924 114.3 L924.8 112.2 L925.9 109.6 L926.1 107 L927.4 104.2 L928.2 101.9 L927.8 98.4 L928.6 95.5 L929 93 L930.5 91.3 L931 93.4 L931.3 96.7 L931.7 99 L932 101.9 L933.2 105.2 L932.2 107.9 L933.6 110.3 L932.6 112.9 L933.3 115.2 L933.7 117.6 L934.4 121.1 L934.3 124.2 L934.4 126.1 L934.2 128.4 L934.1 132 L935.5 133.9 L934.8 137 L936 140.1 L935.3 142.5 L936.5 145.1 L936 146.9 L936.7 149.9 L936.6 152.8 L937 155.8 L937.1 157.4 L937.9 160.9 L938.6 163.7 L939 166.8 L938.7 168.8 L938.6 171.2 L939.5 173.9 L940 176.3 L939.9 180.1 L939.7 181.4 L940.5 184.2 L941.2 186.6 L941.7 190.4 L941.9 192.4 L941.5 195.3 L942.1 197.6 L942.3 200.3 L943.1 203.3 L943.8 205 L943.4 208 L944.2 210.4 L944.1 212.6 L944.7 215.8 L945.7 218.7 L946.3 221.7 L946.7 223.9 L946.9 225.8 L947 229.2 L946.8 231.8 L948.1 234.3 L947.9 236.9 L947.8 240.4 L947.6 242.3 L948.7 245.5 L948.1 248.7 L948.8 251.5 L949.1 254.3 L949.4 257 L949.1 259.4 L950.4 262.6 L949.5 265.8 L949.9 267.4 L950.5 270.4 L950.7 273.5 L950.5 276.3 L950.6 278.9 L951.5 281.1 L951.4 283.8 L951.7 287.6 L952 290.1 L952.5 292 L952.7 295.5 L952 298.4 L952.6 300.2 L953.6 303.4 L953.5 305.5 L953.7 308.1 L953.1 311.2 L953 314.2 L953.5 316.4 L954.4 319.3 L954.8 322.2 L955 324.8 L955.2 327.9 L954.6 330.3 L955 333.4 L955.8 336.3 L955.4 338.6 L956.6 342.3 L957 343.9 L957.2 346.9 L957.5 350.7 L957.5 353.5 L960.9 353 L960.7 350.5 L962 348 L961.4 344.6 L961.8 343.1 L962.2 340.1 L962.8 337.6 L963.3 334.2 L964.1 332.1 L964.4 329.9 L965.2 326.1 L964.7 323.6 L965.3 321.9 L966.1 318 L965.6 316.5 L966.6 313.2 L966.7 310.2 L967.6 307.8 L967.8 305.4 L967.3 302.3 L967.8 300.4 L968.7 296.5 L968.5 294.2 L969.3 291.7 L969.5 288.7 L969.4 286.3 L970.2 282.7 L970.7 281.4 L970.5 277.4 L971.6 275 L971.6 272.6 L972 270.1 L972.7 268 L973.8 264.1 L973.6 262.5 L974.4 259.9 L974.5 257.1 L974.5 254 L975.5 252.2 L975.8 249.2 L975.5 246.5 L976.4 243.1 L976.5 239.8 L976.7 236.9 L976.3 233.8 L977.1 231.3 L977.5 228.2 L977.4 225.5 L977.9 222.7 L977.7 221.2 L978.6 218 L979 215.2 L978.7 212.3 L979.4 210.2 L980 207.7 L980.6 204.8 L980.8 202.5 L979.8 199.4 L980.8 197.9 L980.7 194.9 L981 192.5 L980.7 189.3 L982.1 186.4 L981.5 183.4 L981.6 181.1 L982.6 178.4 L982.4 176 L983 173.9 L983.5 170.3 L984 168.6 L984.1 164.6 L984.8 162.9 L984.5 159.1 L984.7 156.9 L985.8 154.2 L986.5 151 L986.1 149 L987 145.7 L987.4 142.9 L987.3 140.3 L987.5 138 L988.4 135.2 L989.3 132.4 L989.6 134.5 L990.7 137.9 L990.9 140.1 L991 143.6 L990.9 145.7 L990.9 148.7 L991.8 151.8 L992.6 154.9 L992.8 158 L993.4 160.9 L994 163.3 L994.8 166.1 L995.3 169.7 L995.8 172.1 L996.4 175.7 L996.3 177.5 L996.8 181.2 L996.7 182.8 L997.6 186.5 L998.4 188.9 L999.1 191.5 L999.2 194.1 L998.5 197 L999.3 200.3 L1000.1 202.6 L1001 205.6 L1000.2 208.1 L1001.4 211.9 L1001 213.5 L1002.2 216.5 L1002.9 219.6 L1002.7 222.3 L1003.6 225.3 L1003.6 229 L1003.9 231.7 L1004.7 234.5 L1005.3 237.7 L1005.3 240.1 L1006.2 243.3 L1007.4 245.7 L1006.8 248 L1007.4 251.1 L1007.6 253.4 L1008.7 256.8 L1008.4 260.1 L1008.7 262.2 L1009 265.4 L1010.4 267.3 L1010.6 270.9 L1010.4 273.1 L1010.8 276.5 L1010.6 279 L1011.5 281.4 L1011.7 284.8 L1011.5 287.5 L1012 290.1 L1012.9 292.1 L1013.2 296 L1012.6 297.4 L1012.6 301.4 L1012.8 304.1 L1013.5 306.5 L1013.4 303.2 L1014.5 300.5 L1014.2 299.1 L1015 296.5 L1015.6 292.7 L1014.8 291.2 L1015.7 287.5 L1015.7 285.2 L1015.9 282.4 L1015.5 281.1 L1016.2 278.3 L1016.4 275.2 L1016.6 272.4 L1017 270 L1017.3 267.3 L1018.2 263.7 L1018.3 261.5 L1019.5 258.6 L1018.8 256.7 L1020.1 253.6 L1019.7 250.1 L1020 247.2 L1020.4 245.1 L1021 242.4 L1021.3 238.8 L1022.2 236.9 L1022.4 233.9 L1022.8 231.3 L1023.6 228.7 L1023.3 225.6 L1023.7 223.9 L1024 220.5 L1024.4 217.6 L1025.6 214.8 L1025.5 213.5 L1025.5 210.4 L1025.8 207.2 L1025.8 204.3 L1027 202.5 L1027.4 198.7 L1027.3 196.4 L1027.5 194 L1027.4 191.8 L1027.2 188.8 L1028.6 185.7 L1028.6 183.6 L1028.5 180.3 L1029.4 177.3 L1029.7 174.6 L1029.9 172.2 L1030.4 169.1 L1030.8 166.7 L1030.6 164.1 L1031 161.8 L1031.7 158.7 L1031.9 155.6 L1031.7 152.4 L1032.9 150.1 L1032.5 147.3 L1033.1 144 L1032.4 142 L1033 139 L1033.8 136.5 L1034 132.5 L1033.6 130.5 L1034.3 127 L1033.6 124.5 L1033.7 121.9 L1034.9 119.4 L1034.5 116 L1034.6 114.6 L1035.2 111.1 L1035.1 108.8 L1035.7 105.2 L1035.8 102.8 L1035.7 100 L1035.7 97.4 L1036 94.3 L1035.9 92.5 L1035.9 89.3 L1037.1 86.8 L1036.7 84.2 L1037.6 81.4 L1037.6 79.8 L1037.2 76.6 L1038 74.2 L1038.2 70.1 L1038.8 67.2 L1039.5 64 L1039.9 67.3 L1041 69.9 L1041 73.2 L1042.1 75.9 L1042.7 79.3 L1042.2 82.1 L1042.4 84.1 L1043.3 87.4 L1043.3 90.5 L1044.1 93.7 L1043.5 96.3 L1044 99 L1044.8 101.8 L1044.6 105.4 L1044.9 107.7 L1045.2 111 L1045.8 113.8 L1045.7 116 L1046.4 119 L1046.8 122 L1046.3 123.9 L1046.5 127.4 L1046.9 129.1 L1048 132.3 L1047.5 135.2 L1048.8 137.6 L1048.2 140.5 L1049 143 L1050.2 146 L1050.3 147.7 L1049.9 150.8 L1049.8 154.1 L1050.6 155.9 L1051 158.5 L1052.2 161.6 L1052.1 164.2 L1051.9 166.7 L1053.5 170.2 L1053.9 172.1 L1053.6 174.9 L1054.3 172.3 L1054.6 169.7 L1055.2 166.8 L1055.9 163.9 L1056.5 161.6 L1055.7 158.6 L1056.8 156 L1057.2 153.2 L1057.1 151.2 L1057.5 148.4 L1058.6 145.5 L1058.4 143.3 L1058.7 140.6 L1058.5 137.3 L1059.7 134 L1060.1 131.7 L1060.3 128.6 L1061.1 126.2 L1061.2 123.1 L1061.4 120.4 L1061.2 116.8 L1062 114.1 L1062.7 111.2 L1061.9 108.4 L1063.2 106.9 L1063.1 103.8 L1063.2 101.5 L1064 98 L1063.8 95.7 L1064.3 93.1 L1065.1 89.5 L1066 87 L1067.3 84.9 L1068.5 87.6 L1069.1 90.2 L1069.7 94.1 L1069.8 95.9 L1070.1 99.1 L1070.2 101.6 L1070.3 104.2 L1071.6 106.8 L1071.8 109 L1072.1 111.9 L1072.8 115.5 L1073.1 117.4 L1072.5 119.7 L1073.4 122.5 L1073.9 124.6 L1073.6 128.2 L1074 130.3 L1073.7 132.6 L1074.2 136.4 L1075.4 138.3 L1075.8 140.8 L1075.7 144.9 L1075.8 147.3 L1076.4 149.3 L1076.2 152.7 L1076.3 156 L1076.5 159 L1076.9 160.9 L1077.5 163.8 L1077.7 167.7 L1078 170.2 L1077.5 173.1 L1077.9 176.1 L1078.2 178.9 L1078.8 181.5 L1079.6 184 L1079.2 188 L1079.8 190.4 L1080.6 192.9 L1079.9 195 L1081.1 197.7 L1080.8 201 L1080.5 203.5 L1080.8 206.3 L1081.5 208.8 L1081.3 211.5 L1081.7 214 L1081.8 217.7 L1082.5 220.6 L1082.1 223.5 L1083 226.2 L1083.4 228.9 L1083.2 231.9 L1083.7 234.2 L1085.6 237.9 L1086.1 240.4 L1086.7 242.9 L1086.4 245.8 L1086.6 249.3 L1086.9 251 L1086.4 254.5 L1087.2 256.8 L1087.7 260.2 L1088.6 262.5 L1089.2 265.5 L1090 267.7 L1090.3 271.1 L1090.2 273.3 L1090.3 276.9 L1091.3 278.7 L1091.1 281.4 L1091.2 284.2 L1091.8 287.9 L1093 290.4 L1092.6 292.6 L1093.2 295.6 L1093.9 298.8 L1093.6 302.1 L1094.8 305.5 L1094.8 302.3 L1096 298.2 L1097.3 295.4 L1097.6 297.4 L1098 301.1 L1098.4 303.4 L1098.6 306.1 L1098.6 308.1 L1099.2 311.2 L1099.3 313.3 L1100.1 316.6 L1100.5 319.1 L1100.9 323.2 L1100.5 326.1 L1100.6 328.1 L1101.1 330.7 L1101.4 334.3 L1101.9 336.6 L1101.7 339.3 L1102.5 341.8 L1102.9 344.6 L1102.4 346.1 L1103 349.8 L1102.8 352 L1103.7 354.9 L1102.8 357.1 L1103.4 359.4 L1104.5 362.2 L1104.6 364.9 L1104.5 367.2 L1104.9 370.7 L1105.6 372.5 L1105.3 375.1 L1106.5 377.9 L1106.8 381.1 L1106.4 383.5 L1106.6 386.3 L1107.4 388.3 L1108.7 391.2 L1108.2 394.8 L1109.3 397.8 L1109.5 400.1 L1110.7 403 L1110.9 405.7 L1111.4 408.1 L1111.3 410.5 L1111.1 414.5 L1111.9 417 L1111.9 419 L1112 421.9 L1113.4 424.5 L1113.1 427.7 L1113.9 429.9 L1113.4 432.8 L1114.4 436.1 L1114.7 438.6 L1115.5 441 L1115.8 444.3 L1116.7 446.9 L1116.5 450 L1118 452.7 L1120.7 454.7 L1122 458.5 L1123.9 461.8 L1125.9 462.9 L1127.4 465.3 L1131.1 467.1 L1133.3 467.7 L1134.5 464 L1135 461.9 L1136.2 458.3 L1137.1 455.5 L1137.6 458.5 L1138.9 461.8 L1139.3 464.8 L1139.4 467.9 L1143.5 469.7 L1144.2 466.1 L1145.8 464.1 L1147 460.5 L1147.2 463.6 L1149.1 466.1 L1149.6 469.4 L1151.6 470 L1154.3 471.5 L1157.6 470.7 L1159.2 468.5 L1163 469.2 L1165.2 470.6 L1167.8 471.3 L1171.2 472.5 L1174.6 471.9 L1176.2 472.5 L1179.2 471.8 L1179.9 469 L1179.9 465.1 L1181.1 462.6 L1181.2 459.7 L1181.8 456.4 L1181.6 454.5 L1182.1 450.8 L1182.5 447.9 L1183 444.7 L1183.4 442.6 L1183.1 440 L1183.2 436.5 L1183.2 434.1 L1184.4 431.4 L1184.2 428.8 L1184.1 425.2 L1185.1 423.3 L1185.3 419.9 L1188.4 418.7 L1190.1 416.2 L1190.6 412.7 L1192.4 409.8 L1192.9 407.8 L1194.4 404.7 L1195.6 402.3 L1195.2 399.1 L1195.4 396.6 L1196.3 394.6 L1196.8 391.5 L1196.7 388.9 L1196.7 386.6 L1197.7 384 L1197.1 381.1 L1198.2 378.2 L1198.4 375.9 L1198.8 373.3 L1199.1 370.7 L1198.7 367.7 L1199.9 364.8 L1199.7 361.3 L1200.5 359.6 L1200.4 356 L1200.9 353.4 L1201.8 351.4 L1202.5 347.5 L1202.9 344.2 L1203.6 341.5 L1202.9 339 L1203.8 335.6 L1204.1 332.8 L1205.5 330.3 L1205.8 327.1 L1206.8 324 L1208.7 321.7 L1209.5 319.6 L1210.7 317.2 L1211.6 314.7 L1213.6 311.5 L1213.6 309 L1215.1 305.8 L1217.8 302.7 L1220.5 301 L1221.2 303.6 L1221.8 306.8 L1222.1 310.1 L1223.8 312.9 L1224.1 315.3 L1225.5 311.9 L1225.8 309.1 L1226.7 307 L1227.9 303.8 L1228.3 300.7 L1229.2 298.2 L1229.6 296.1 L1230.8 293 L1231.1 290.8 L1232.1 287.6 L1233.8 285.6 L1235.8 283.1 L1237.1 280.8 L1238.1 277.9 L1238 274.3 L1238.6 272.3 L1240.3 269.1 L1240.3 265.7 L1241.1 263.1 L1242.3 259.7 L1241.3 256.5 L1242 254.6 L1242.9 250.9 L1242.2 247.4 L1242.9 245.2 L1243.3 243.1 L1244.2 240.2 L1243.9 237.6 L1243.6 234 L1244.5 231.9 L1244.5 229.1 L1245.5 233.2 L1247.7 236.3 L1249.8 233.1 L1250.9 230.3 L1252.6 234.2 L1253.4 236.8 L1255.7 241.7 L1258.9 241.3" fill="none" stroke="#00007d" stroke-width="3.5" stroke-linejoin="round" stroke-linecap="round" clip-path="url(#pc)"/>
<g shape-rendering="crispEdges" stroke="#009b00" stroke-opacity="0.31" stroke-width="2" stroke-dasharray="1 2">
<line x1="203" y1="33" x2="203" y2="473"/>
<line x1="322" y1="33" x2="322" y2="473"/>
<line x1="441" y1="33" x2="441" y2="473"/>
<line x1="559" y1="33" x2="559" y2="473"/>
<line x1="678" y1="33" x2="678" y2="473"/>
<line x1="797" y1="33" x2="797" y2="473"/>
<line x1="916" y1="33" x2="916" y2="473"/>
<line x1="1035" y1="33" x2="1035" y2="473"/>
<line x1="1154" y1="33" x2="1154" y2="473"/>
<line x1="86" y1="89" x2="1258" y2="89"/>
<line x1="86" y1="197" x2="1258" y2="197"/>
<line x1="86" y1="305" x2="1258" y2="305"/>
<line x1="86" y1="414" x2="1258" y2="414"/>
</g>
<g shape-rendering="crispEdges" stroke="#000" stroke-width="2" fill="none">
<rect x="84" y="31" width="1176" height="444"/>
<line x1="203" y1="31" x2="203" y2="36"/>
<line x1="203" y1="469" x2="203" y2="475"/>
<line x1="322" y1="31" x2="322" y2="36"/>
<line x1="322" y1="469" x2="322" y2="475"/>
<line x1="441" y1="31" x2="441" y2="36"/>
<line x1="441" y1="469" x2="441" y2="475"/>
<line x1="559" y1="31" x2="559" y2="36"/>
<line x1="559" y1="469" x2="559" y2="475"/>
<line x1="678" y1="31" x2="678" y2="36"/>
<line x1="678" y1="469" x2="678" y2="475"/>
<line x1="797" y1="31" x2="797" y2="36"/>
<line x1="797" y1="469" x2="797" y2="475"/>
<line x1="916" y1="31" x2="916" y2="36"/>
<line x1="916" y1="469" x2="916" y2="475"/>
<line x1="1035" y1="31" x2="1035" y2="36"/>
<line x1="1035" y1="469" x2="1035" y2="475"/>
<line x1="1154" y1="31" x2="1154" y2="36"/>
<line x1="1154" y1="469" x2="1154" y2="475"/>
<line x1="84" y1="89" x2="90" y2="89"/>
<line x1="1254" y1="89" x2="1260" y2="89"/>
<line x1="84" y1="197" x2="90" y2="197"/>
<line x1="1254" y1="197" x2="1260" y2="197"/>
<line x1="84" y1="305" x2="90" y2="305"/>
<line x1="1254" y1="305" x2="1260" y2="305"/>
<line x1="84" y1="414" x2="90" y2="414"/>
<line x1="1254" y1="414" x2="1260" y2="414"/>
</g>
<g font-family="'Liberation Sans', sans-serif" font-weight="bold" font-size="14.8" fill="#000080">
<text x="89.4" y="499.7" text-anchor="middle" textLength="8.8" lengthAdjust="spacingAndGlyphs">0</text>
<text x="206.8" y="499.7" text-anchor="middle" textLength="17.7" lengthAdjust="spacingAndGlyphs">20</text>
<text x="325.8" y="499.7" text-anchor="middle" textLength="17.7" lengthAdjust="spacingAndGlyphs">40</text>
<text x="444.8" y="499.7" text-anchor="middle" textLength="17.7" lengthAdjust="spacingAndGlyphs">60</text>
<text x="562.8" y="499.7" text-anchor="middle" textLength="17.7" lengthAdjust="spacingAndGlyphs">80</text>
<text x="680" y="499.7" text-anchor="middle" textLength="26.5" lengthAdjust="spacingAndGlyphs">100</text>
<text x="799" y="499.7" text-anchor="middle" textLength="26.5" lengthAdjust="spacingAndGlyphs">120</text>
<text x="918" y="499.7" text-anchor="middle" textLength="26.5" lengthAdjust="spacingAndGlyphs">140</text>
<text x="1037" y="499.7" text-anchor="middle" textLength="26.5" lengthAdjust="spacingAndGlyphs">160</text>
<text x="1156" y="499.7" text-anchor="middle" textLength="26.5" lengthAdjust="spacingAndGlyphs">180</text>
<text x="72.8" y="36.9" text-anchor="end" textLength="33.9" lengthAdjust="spacingAndGlyphs">2767</text>
<text x="72.8" y="94.9" text-anchor="end" textLength="35.4" lengthAdjust="spacingAndGlyphs">2500</text>
<text x="72.8" y="202.9" text-anchor="end" textLength="36.4" lengthAdjust="spacingAndGlyphs">2000</text>
<text x="72.8" y="310.9" text-anchor="end" textLength="35.2" lengthAdjust="spacingAndGlyphs">1500</text>
<text x="72.8" y="419.9" text-anchor="end" textLength="36" lengthAdjust="spacingAndGlyphs">1000</text>
<text x="72.8" y="480.9" text-anchor="end" textLength="24.2" lengthAdjust="spacingAndGlyphs">716</text>
<text x="671.7" y="518.1" text-anchor="middle" font-size="14" textLength="93.5" lengthAdjust="spacingAndGlyphs">Distance [km]</text>
<text transform="translate(15.2 253.5) rotate(-90)" text-anchor="middle" font-size="14" textLength="50.5" lengthAdjust="spacingAndGlyphs">Alt. [m]</text>
</g>
<g font-family="'Liberation Sans', sans-serif" font-size="15.8" fill="#111">
<text transform="translate(171.1 37.5) rotate(90)" textLength="107.2" lengthAdjust="spacingAndGlyphs">Besse en Oisans</text>
<text transform="translate(290.1 37.5) rotate(90)" textLength="58" lengthAdjust="spacingAndGlyphs">La Grave</text>
<text transform="translate(429.1 37.5) rotate(90)" textLength="147.6" lengthAdjust="spacingAndGlyphs">Le Monêtier-les-Bains</text>
<text transform="translate(549.1 37.5) rotate(90)" textLength="58.8" lengthAdjust="spacingAndGlyphs">Vallouise</text>
<text transform="translate(840.1 37.5) rotate(90)" textLength="190.3" lengthAdjust="spacingAndGlyphs">La Chapelle en Valgaudemar</text>
<text transform="translate(1173.1 37.5) rotate(90)" textLength="124.1" lengthAdjust="spacingAndGlyphs">Le Bourg-d'Oisans</text>
</g>
<circle cx="168.5" cy="12.6" r="3.45" fill="#ececf8" stroke="#8c8ccd" stroke-width="1.3"/><circle cx="168.5" cy="12.6" r="1.05" fill="#5050b4"/>
<circle cx="287.5" cy="12.6" r="3.45" fill="#ececf8" stroke="#8c8ccd" stroke-width="1.3"/><circle cx="287.5" cy="12.6" r="1.05" fill="#5050b4"/>
<circle cx="426.5" cy="12.6" r="3.45" fill="#ececf8" stroke="#8c8ccd" stroke-width="1.3"/><circle cx="426.5" cy="12.6" r="1.05" fill="#5050b4"/>
<circle cx="546.5" cy="12.6" r="3.45" fill="#ececf8" stroke="#8c8ccd" stroke-width="1.3"/><circle cx="546.5" cy="12.6" r="1.05" fill="#5050b4"/>
<circle cx="837.5" cy="12.6" r="3.45" fill="#ececf8" stroke="#8c8ccd" stroke-width="1.3"/><circle cx="837.5" cy="12.6" r="1.05" fill="#5050b4"/>
<circle cx="1170.5" cy="12.6" r="3.45" fill="#ececf8" stroke="#8c8ccd" stroke-width="1.3"/><circle cx="1170.5" cy="12.6" r="1.05" fill="#5050b4"/>
</svg>
</body></html>
